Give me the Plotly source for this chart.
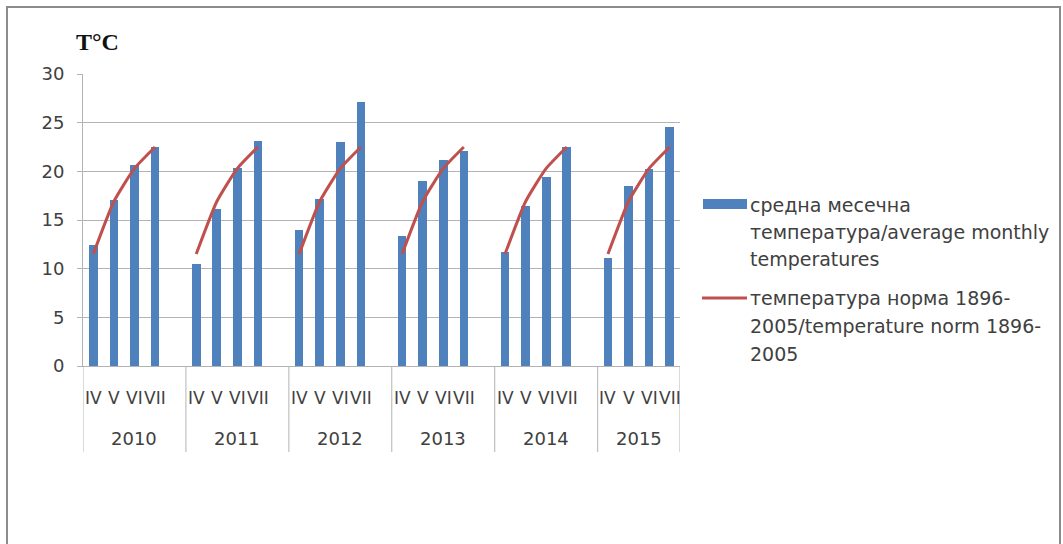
import plotly.graph_objects as go

# ---- data ----
years = ["2010", "2011", "2012", "2013", "2014", "2015"]
months = ["IV", "V", "VI", "VII"]
avg_2010 = [12.4, 17.1, 20.6, 22.5]
avg_2011 = [10.5, 16.1, 20.3, 23.1]
avg_2012 = [14.0, 17.2, 23.0, 27.1]
avg_2013 = [13.4, 19.0, 21.2, 22.1]
avg_2014 = [11.7, 16.4, 19.4, 22.5]
avg_2015 = [11.1, 18.5, 20.2, 24.6]
norm_1896_2005 = [11.5, 16.9, 20.3, 22.5]
y_ticks = [0, 5, 10, 15, 20, 25, 30]

avg_by_year = [avg_2010, avg_2011, avg_2012, avg_2013, avg_2014, avg_2015]

bar_name = "средна месечна<br>температура/average monthly<br>temperatures"
line_name = "температура норма 1896-<br>2005/temperature norm 1896-<br>2005"

# ---- geometry ----
W, H = 1063, 544
ML, MR, MT, MB = 83, 383, 74, 178
PW, PH = W - ML - MR, H - MT - MB
SLOTS = 5  # four months plus a spacer slot per year
n_slots = SLOTS * len(years) - 1


def px(xp):
    return (xp - ML) / PW


def py(yp):
    return (H - MB - yp) / PH


FONT = "DejaVu Sans"
TXT = "#404040"
GRID = "#b3b3b3"
BLUE = "#4F81BD"
RED = "#C0504D"

bar_x, bar_y, line_x, line_y = [], [], [], []
for g, vals in enumerate(avg_by_year):
    for m, v in enumerate(vals):
        bar_x.append(g * SLOTS + m)
        bar_y.append(v)
    for m, v in enumerate(norm_1896_2005):
        line_x.append(g * SLOTS + m)
        line_y.append(v)
    line_x.append(None)
    line_y.append(None)

fig = go.Figure()
fig.add_trace(go.Bar(x=bar_x, y=bar_y, width=0.42, marker_color=BLUE,
                     marker_line_width=0, name=bar_name))
fig.add_trace(go.Scatter(x=line_x, y=line_y, mode="lines", name=line_name,
                         line=dict(color=RED, width=3, shape="spline", smoothing=0.5),
                         connectgaps=False))

shapes = []
annotations = []

# category dividers below the axis
div_positions = [-0.5] + [g * SLOTS + 4.5 for g in range(len(years) - 1)] + [n_slots - 0.5]
for d in div_positions:
    shapes.append(dict(type="line", xref="x", yref="paper", x0=d, x1=d,
                       y0=0, y1=py(452), line=dict(color=GRID, width=1)))

# month and year labels
for g, yr in enumerate(years):
    first = g * SLOTS
    for m, mo in enumerate(months):
        annotations.append(dict(x=first + m, y=py(398), xref="x", yref="paper",
                                xanchor="center", yanchor="middle",
                                text=mo, showarrow=False,
                                font=dict(family=FONT, size=17, color=TXT)))
    last = min(first + SLOTS - 0.5, n_slots - 0.5)
    annotations.append(dict(x=(first - 0.5 + last) / 2, y=py(438), xref="x", yref="paper",
                            xanchor="center", yanchor="middle",
                            text=yr, showarrow=False,
                            font=dict(family=FONT, size=18, color=TXT)))

# axis unit title
annotations.append(dict(x=px(74), y=py(42), xref="paper", yref="paper", text="<b>T°C</b>",
                        xanchor="left", yanchor="middle", showarrow=False,
                        font=dict(family="Liberation Serif", size=24, color="#111111")))

# legend
shapes.append(dict(type="rect", xref="paper", yref="paper", x0=px(703), x1=px(747),
                   y0=py(199), y1=py(209), fillcolor=BLUE, line=dict(width=0)))
shapes.append(dict(type="line", xref="paper", yref="paper", x0=px(702), x1=px(747),
                   y0=py(298), y1=py(298), line=dict(color=RED, width=3)))
legend_lines = [(bar_name, [205, 232, 259]), (line_name, [298, 326, 354])]
for text, ys in legend_lines:
    for part, yy in zip(text.split("<br>"), ys):
        annotations.append(dict(x=px(748), y=py(yy), xref="paper", yref="paper",
                                xanchor="left", yanchor="middle", text=part, showarrow=False,
                                font=dict(family=FONT, size=19, color=TXT)))

# outer frame (bottom edge falls just below the page)
shapes.append(dict(type="rect", xref="paper", yref="paper", x0=px(7), x1=px(1060),
                   y0=py(548), y1=py(7), line=dict(color="#8c8c8c", width=2)))

fig.update_layout(
    width=W, height=H,
    margin=dict(l=ML, r=MR, t=MT, b=MB, autoexpand=False),
    paper_bgcolor="white", plot_bgcolor="white",
    showlegend=False, bargap=0,
    shapes=shapes, annotations=annotations,
    xaxis=dict(range=[-0.5, n_slots - 0.5], showticklabels=False, showgrid=False,
               zeroline=False, showline=True, linecolor=GRID, linewidth=1, ticks=""),
    yaxis=dict(range=[0, 30], tickvals=y_ticks, showgrid=True, gridcolor=GRID, gridwidth=1,
               zeroline=False, showline=True, linecolor=GRID, linewidth=1,
               ticks="outside", ticklen=5, tickcolor=GRID, ticklabelstandoff=9,
               tickfont=dict(family=FONT, size=18, color=TXT)),
)

fig.write_html("out.html")
